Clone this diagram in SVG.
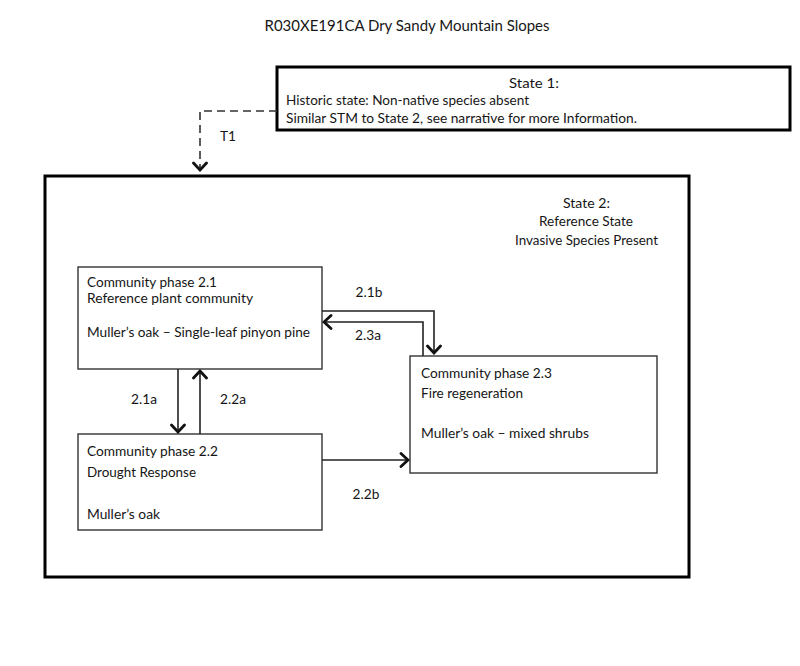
<svg xmlns="http://www.w3.org/2000/svg" width="800" height="666" viewBox="0 0 800 666">
<defs>
<style>
text{font-family:Lato,"Open Sans","Liberation Sans",sans-serif;font-size:13.7px;fill:#161616}
.title{font-size:14.5px}
.state{fill:#fff;stroke:#000;stroke-width:3}
.phase{fill:#fff;stroke:#333;stroke-width:1.4}
.conn{fill:none;stroke:#222;stroke-width:1.6}
.dash{fill:none;stroke:#333;stroke-width:1.6;stroke-dasharray:8,5}
.mid{text-anchor:middle}
</style>
<marker id="chev" viewBox="-10 -9 12 18" markerWidth="12" markerHeight="18" refX="0" refY="0" orient="auto" markerUnits="userSpaceOnUse">
<path d="M-7,-6.5 L0,0 L-7,6.5" fill="none" stroke="#111" stroke-width="2.8" stroke-linecap="round" stroke-linejoin="miter"/>
</marker>
</defs>
<rect width="800" height="666" fill="#fff"/>
<text class="title mid" x="407" y="31" textLength="285" lengthAdjust="spacingAndGlyphs">R030XE191CA Dry Sandy Mountain Slopes</text>

<g id="state1">
<rect class="state" x="277" y="67" width="513" height="63"/>
<text class="mid" x="534" y="88" textLength="50" lengthAdjust="spacingAndGlyphs">State 1:</text>
<text x="286" y="105" textLength="243" lengthAdjust="spacingAndGlyphs">Historic state: Non-native species absent</text>
<text x="286" y="123" textLength="351" lengthAdjust="spacingAndGlyphs">Similar STM to State 2, see narrative for more Information.</text>
</g>

<g id="state2">
<rect class="state" x="45" y="176" width="644" height="401"/>
<text class="mid" x="586.5" y="208" textLength="47" lengthAdjust="spacingAndGlyphs">State 2:</text>
<text class="mid" x="586" y="226" textLength="94" lengthAdjust="spacingAndGlyphs">Reference State</text>
<text class="mid" x="586.5" y="245" textLength="143" lengthAdjust="spacingAndGlyphs">Invasive Species Present</text>
</g>

<g id="phase21">
<rect class="phase" x="78" y="267" width="244" height="102"/>
<text x="87" y="287" textLength="130" lengthAdjust="spacingAndGlyphs">Community phase 2.1</text>
<text x="87" y="303" textLength="166" lengthAdjust="spacingAndGlyphs">Reference plant community</text>
<text x="87" y="337" textLength="223" lengthAdjust="spacingAndGlyphs">Muller’s oak – Single-leaf pinyon pine</text>
</g>

<g id="phase22">
<rect class="phase" x="78" y="434" width="244" height="96"/>
<text x="87" y="456" textLength="131" lengthAdjust="spacingAndGlyphs">Community phase 2.2</text>
<text x="87" y="477" textLength="109" lengthAdjust="spacingAndGlyphs">Drought Response</text>
<text x="87" y="519" textLength="73" lengthAdjust="spacingAndGlyphs">Muller’s oak</text>
</g>

<g id="phase23">
<rect class="phase" x="410" y="356" width="247" height="117"/>
<text x="421" y="378" textLength="131" lengthAdjust="spacingAndGlyphs">Community phase 2.3</text>
<text x="421" y="398" textLength="102" lengthAdjust="spacingAndGlyphs">Fire regeneration</text>
<text x="421" y="438" textLength="168" lengthAdjust="spacingAndGlyphs">Muller’s oak – mixed shrubs</text>
</g>

<g id="connectors">
<path class="dash" d="M277,111 H200 V170" marker-end="url(#chev)"/>
<path class="conn" d="M322,311 H434 V353" marker-end="url(#chev)"/>
<path class="conn" d="M423,356 V322 H324" marker-end="url(#chev)"/>
<path class="conn" d="M178,369 V432" marker-end="url(#chev)"/>
<path class="conn" d="M200,434 V371" marker-end="url(#chev)"/>
<path class="conn" d="M322,460 H408" marker-end="url(#chev)"/>
<text x="220" y="141">T1</text>
<text class="mid" x="369" y="297">2.1b</text>
<text class="mid" x="368" y="340">2.3a</text>
<text class="mid" x="144" y="404">2.1a</text>
<text class="mid" x="233" y="404">2.2a</text>
<text class="mid" x="366" y="499">2.2b</text>
</g>
</svg>
